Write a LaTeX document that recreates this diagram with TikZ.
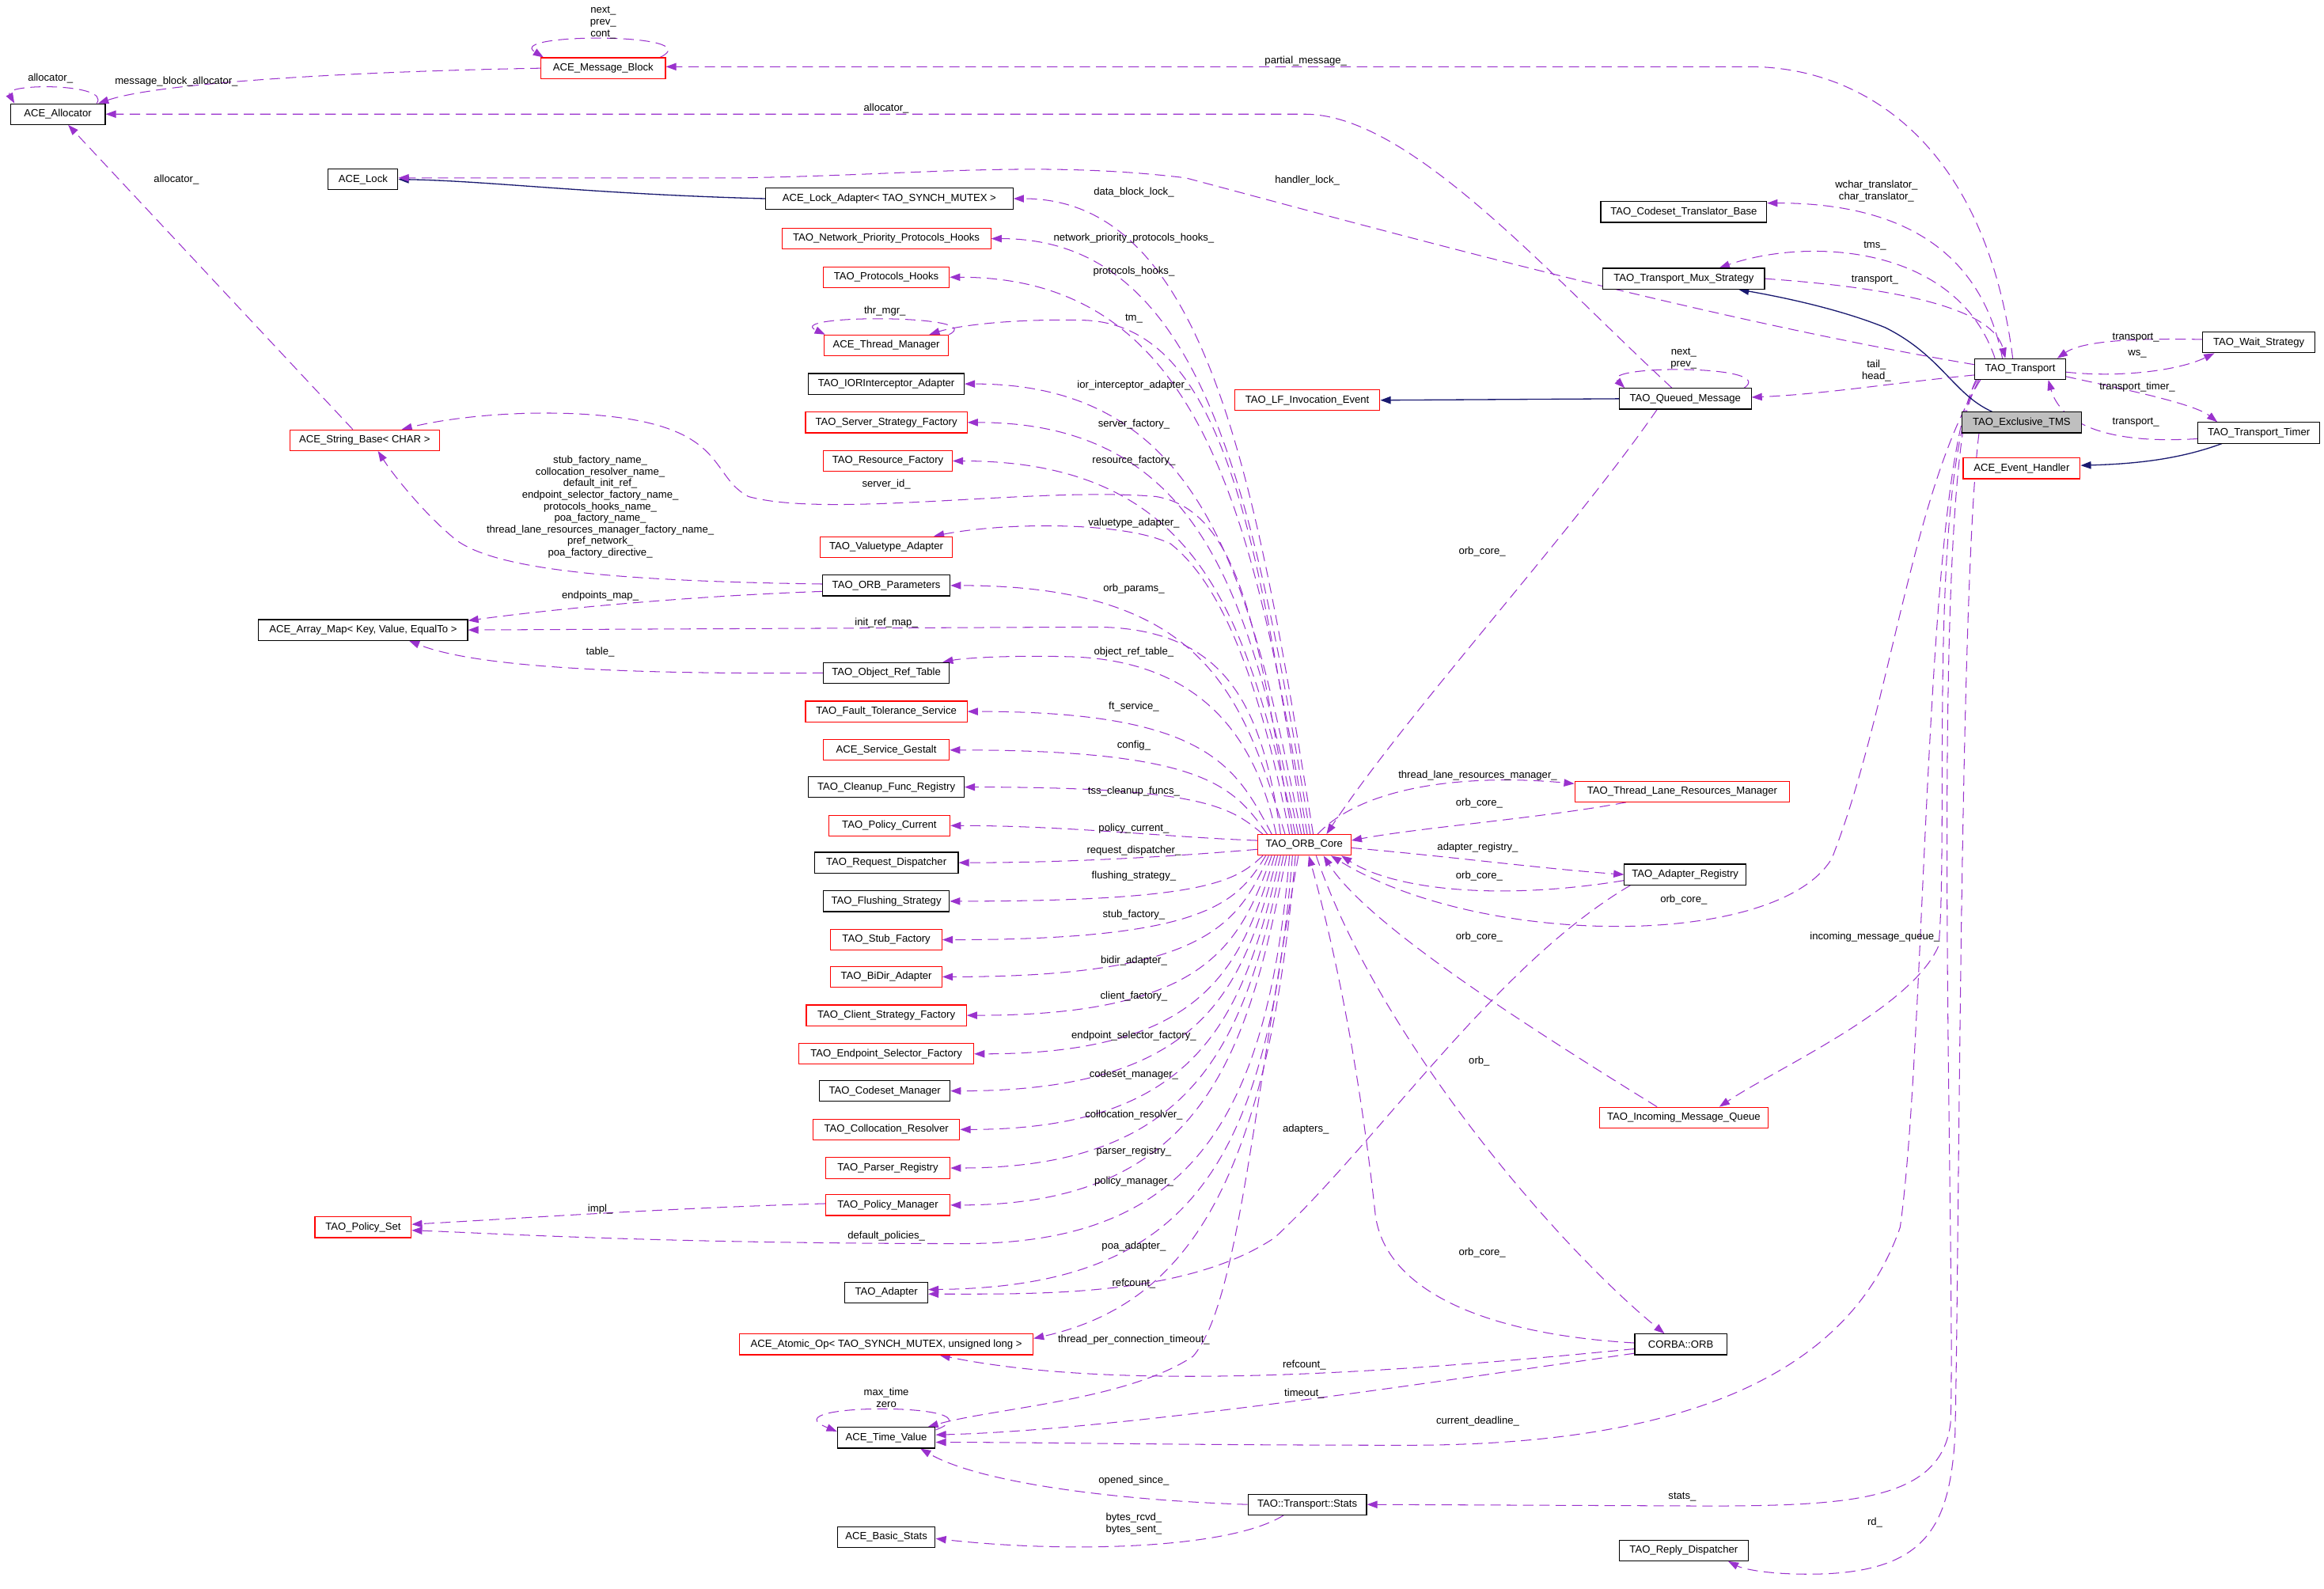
\documentclass[tikz,border=0pt]{standalone}
\usepackage{fontspec}
\setmainfont{Liberation Sans}
\usetikzlibrary{arrows.meta}
\pgfdeclarelayer{bg}
\pgfsetlayers{bg,main}
\definecolor{mpurple}{HTML}{9A32CD}
\definecolor{mblue}{HTML}{191970}
\definecolor{mgray}{HTML}{BFBFBF}
\tikzset{
  box/.style={draw=black, line width=0.6pt, minimum height=14pt, inner sep=0pt, font=\fontsize{7}{8}\selectfont, fill=white},
  rbox/.style={box, draw=red},
  mem/.style={draw=mpurple, line width=0.55pt, dash pattern=on 7pt off 4pt, -{Triangle[length=7pt,width=5pt]}},
  inh/.style={draw=mblue, line width=0.7pt, -{Triangle[length=7pt,width=5pt]}},
  lbl/.style={inner sep=0pt, font=\fontsize{7}{8}\selectfont, align=center},
}
\newcommand\fanup[3]{\draw[mem] ([xshift=#2pt]orbcore.north) .. controls ({845+0.5*(#2)},{#3+0.45*(563-#3)}) and (815,#3) .. (#1.east);}
\newcommand\fandown[3]{\draw[mem] ([xshift=#2pt]orbcore.south) .. controls ({848+0.5*(#2)},{#3-0.45*(#3-577)}) and (815,#3) .. (#1.east);}
\begin{document}
\begin{tikzpicture}[x=1pt,y=-1pt]
\useasboundingbox (0,0) rectangle (1568,1072);
% ---------- nodes ----------
\node[box,minimum width=64pt] (alloc) at (39,77) {ACE\_Allocator};
\node[rbox,minimum width=84pt] (msgblk) at (407,46) {ACE\_Message\_Block};
\node[box,minimum width=47pt] (lock) at (245,121) {ACE\_Lock};
\node[box,minimum width=167pt] (lockad) at (600,134) {ACE\_Lock\_Adapter< TAO\_SYNCH\_MUTEX >};
\node[rbox,minimum width=141pt] (nphooks) at (598,161) {TAO\_Network\_Priority\_Protocols\_Hooks};
\node[rbox,minimum width=85pt] (phooks) at (598,187) {TAO\_Protocols\_Hooks};
\node[rbox,minimum width=84pt] (thrmgr) at (598,233) {ACE\_Thread\_Manager};
\node[box,minimum width=105pt] (iorint) at (598,259) {TAO\_IORInterceptor\_Adapter};
\node[rbox,minimum width=109pt] (ssf) at (598,285) {TAO\_Server\_Strategy\_Factory};
\node[rbox,minimum width=87pt] (resf) at (599,311) {TAO\_Resource\_Factory};
\node[rbox,minimum width=101pt] (strbase) at (246,297) {ACE\_String\_Base< CHAR >};
\node[rbox,minimum width=89pt] (vta) at (598,369) {TAO\_Valuetype\_Adapter};
\node[box,minimum width=86pt] (orbparams) at (598,395) {TAO\_ORB\_Parameters};
\node[box,minimum width=141pt] (arraymap) at (245,425) {ACE\_Array\_Map< Key, Value, EqualTo >};
\node[box,minimum width=85pt] (ort) at (598,454) {TAO\_Object\_Ref\_Table};
\node[rbox,minimum width=109pt] (fts) at (598,480) {TAO\_Fault\_Tolerance\_Service};
\node[rbox,minimum width=85pt] (gestalt) at (598,506) {ACE\_Service\_Gestalt};
\node[box,minimum width=105pt] (cleanup) at (598,531) {TAO\_Cleanup\_Func\_Registry};
\node[rbox,minimum width=82pt] (polcur) at (600,557) {TAO\_Policy\_Current};
\node[box,minimum width=97pt] (reqdisp) at (598,582) {TAO\_Request\_Dispatcher};
\node[box,minimum width=85pt] (flush) at (598,608) {TAO\_Flushing\_Strategy};
\node[rbox,minimum width=75pt] (stubf) at (598,634) {TAO\_Stub\_Factory};
\node[rbox,minimum width=75pt] (bidir) at (598,659) {TAO\_BiDir\_Adapter};
\node[rbox,minimum width=108pt] (csf) at (598,685) {TAO\_Client\_Strategy\_Factory};
\node[rbox,minimum width=118pt] (esf) at (598,711) {TAO\_Endpoint\_Selector\_Factory};
\node[box,minimum width=88pt] (csm) at (597,736) {TAO\_Codeset\_Manager};
\node[rbox,minimum width=99pt] (colres) at (598,762) {TAO\_Collocation\_Resolver};
\node[rbox,minimum width=84pt] (parser) at (599,788) {TAO\_Parser\_Registry};
\node[rbox,minimum width=84pt] (polmgr) at (599,813) {TAO\_Policy\_Manager};
\node[rbox,minimum width=65pt] (polset) at (245,828) {TAO\_Policy\_Set};
\node[box,minimum width=56pt] (adapter) at (598,872) {TAO\_Adapter};
\node[rbox,minimum width=198pt] (atomic) at (598,907) {ACE\_Atomic\_Op< TAO\_SYNCH\_MUTEX, unsigned long >};
\node[box,minimum width=66pt] (timeval) at (598,970) {ACE\_Time\_Value};
\node[box,minimum width=66pt] (basic) at (598,1037) {ACE\_Basic\_Stats};
\node[rbox,minimum width=63pt] (orbcore) at (880,570) {TAO\_ORB\_Core};
\node[rbox,minimum width=98pt] (lfie) at (882,270) {TAO\_LF\_Invocation\_Event};
\node[rbox,minimum width=145pt] (tlrm) at (1135,534) {TAO\_Thread\_Lane\_Resources\_Manager};
\node[box,minimum width=82pt] (adreg) at (1137,590) {TAO\_Adapter\_Registry};
\node[rbox,minimum width=114pt] (imq) at (1136,754) {TAO\_Incoming\_Message\_Queue};
\node[box,minimum width=62pt] (corbaorb) at (1134,907) {CORBA::ORB};
\node[box,minimum width=80pt] (stats) at (882,1015) {TAO::Transport::Stats};
\node[box,minimum width=87pt] (replyd) at (1136,1046) {TAO\_Reply\_Dispatcher};
\node[box,minimum width=112pt] (cstb) at (1136,143) {TAO\_Codeset\_Translator\_Base};
\node[box,minimum width=109pt] (tms) at (1136,188) {TAO\_Transport\_Mux\_Strategy};
\node[box,minimum width=89pt] (qmsg) at (1137,269) {TAO\_Queued\_Message};
\node[box,minimum width=61pt] (transport) at (1363,249) {TAO\_Transport};
\node[box,minimum width=81pt,fill=mgray] (extms) at (1364,285) {TAO\_Exclusive\_TMS};
\node[rbox,minimum width=79pt] (evh) at (1364,316) {ACE\_Event\_Handler};
\node[box,minimum width=76pt] (wait) at (1524,231) {TAO\_Wait\_Strategy};
\node[box,minimum width=82pt] (timer) at (1524,292) {TAO\_Transport\_Timer};
% ---------- edges ----------
\begin{pgfonlayer}{bg}
\fill[white] (0,0) rectangle (1568,1072);
% self loops
\draw[mem] ([xshift=-6pt]alloc.north east) .. controls (75,56) and (2,56) .. ([xshift=3pt]alloc.north west);
\draw[mem] ([xshift=-4pt]msgblk.north east) .. controls (480,22) and (340,22) .. ([xshift=2pt]msgblk.north west);
\draw[mem] (thrmgr.north east) .. controls (668,212) and (528,212) .. ([xshift=1pt]thrmgr.north west);
\draw[mem] ([yshift=-2pt]timeval.north east) .. controls (680,946) and (515,946) .. ([yshift=-3pt]timeval.north west);
\draw[mem] ([xshift=-5pt]qmsg.north east) .. controls (1200,246) and (1080,246) .. ([xshift=4pt]qmsg.north west);
% top area
\draw[mem] (msgblk.west) .. controls (250,48) and (110,55) .. ([xshift=-5pt]alloc.north east);
\draw[mem] ([xshift=-5pt]transport.north) .. controls (1340,100) and (1260,45) .. (1180,45) -- ([yshift=1pt]msgblk.east);
\draw[mem] ([xshift=-9pt]qmsg.north) .. controls (1040,180) and (950,77) .. (880,77) -- (alloc.east);
\draw[inh] (lockad.west) .. controls (400,131) and (330,122) .. (lock.east);
\draw[mem] ([yshift=3pt]transport.west) .. controls (1150,215) and (950,160) .. (800,120) .. controls (700,108) and (620,118) .. (500,120) -- ([yshift=1pt]lock.east);
% ORB core fan (upper)
\fanup{lockad}{6}{134}
\fanup{nphooks}{4}{161}
\fanup{phooks}{2}{187}
\draw[mem] (orbcore.north) .. controls (850,380) and (830,218) .. (730,216) .. controls (680,215) and (645,220) .. ([xshift=29pt]thrmgr.north);
\fanup{iorint}{-2}{259}
\fanup{ssf}{-4}{285}
\fanup{resf}{-6}{311}
\draw[mem] ([xshift=-8pt]orbcore.north) .. controls (850,440) and (840,345) .. (780,335) .. controls (700,328) and (560,350) .. (505,335) .. controls (480,322) and (490,292) .. (420,282) .. controls (370,275) and (310,280) .. ([xshift=25pt]strbase.north);
\draw[mem] ([xshift=-10pt]orbcore.north) .. controls (850,460) and (825,395) .. (790,367) .. controls (760,352) and (680,352) .. ([xshift=32pt]vta.north);
\fanup{orbparams}{-13}{395}
\draw[mem] ([xshift=-16pt]orbcore.north) .. controls (852,480) and (830,424) .. (740,423) -- (arraymap.east);
\draw[mem] ([xshift=-19pt]orbcore.north) .. controls (850,510) and (820,445) .. (720,443) .. controls (680,442) and (650,444) .. ([xshift=38pt]ort.north);
\fanup{fts}{-22}{480}
\fanup{gestalt}{-25}{506}
\fanup{cleanup}{-28}{531}
\draw[mem] ([yshift=3pt]orbcore.west) .. controls (790,565) and (720,557) .. (polcur.east);
\draw[mem] ([yshift=-3pt]orbcore.west) .. controls (790,578) and (720,582) .. (reqdisp.east);
% ORB core fan (lower)
\fandown{flush}{-28}{608}
\fandown{stubf}{-26}{634}
\fandown{bidir}{-24}{659}
\fandown{csf}{-22}{685}
\fandown{esf}{-20}{711}
\fandown{csm}{-18}{736}
\fandown{colres}{-16}{762}
\fandown{parser}{-14}{788}
\fandown{polmgr}{-12}{813}
\draw[mem] ([xshift=-10pt]orbcore.south) .. controls (855,760) and (800,839) .. (650,839) .. controls (450,839) and (330,832) .. ([yshift=-2pt]polset.east);
\draw[mem] ([xshift=-8pt]orbcore.south) .. controls (855,790) and (800,868) .. ([yshift=2pt]adapter.east);
\draw[mem] ([xshift=-6pt]orbcore.south) .. controls (855,800) and (800,880) .. ([yshift=4pt]atomic.east);
\draw[mem] ([xshift=-4pt]orbcore.south) .. controls (845,750) and (835,880) .. (805,915) .. controls (760,945) and (670,950) .. ([xshift=28pt]timeval.north);
% left column side edges
\draw[mem] ([yshift=1pt]orbparams.west) .. controls (420,392) and (330,385) .. (305,362) .. controls (285,345) and (265,320) .. ([xshift=9pt]strbase.south);
\draw[mem] ([xshift=-8pt]strbase.north) -- ([xshift=7pt]alloc.south);
\draw[mem] ([yshift=-4pt]orbparams.west) .. controls (470,402) and (380,410) .. ([yshift=-1pt]arraymap.north east);
\draw[mem] (ort.west) .. controls (420,455) and (320,450) .. ([xshift=31pt]arraymap.south);
\draw[mem] ([yshift=1pt]polmgr.west) .. controls (450,815) and (350,822) .. ([yshift=2pt]polset.east);
\draw[mem] (stats.west) .. controls (750,1012) and (660,1000) .. ([xshift=23pt]timeval.south);
\draw[mem] ([xshift=-16pt]stats.south) .. controls (830,1045) and (720,1048) .. ([yshift=-1pt]basic.east);
% ORB core right side
\draw[mem] ([xshift=9pt]orbcore.north) .. controls (920,530) and (990,522) .. ([yshift=-2pt]tlrm.north west);
\draw[mem] ([xshift=-38pt]tlrm.south) .. controls (1040,552) and (960,558) .. ([yshift=3pt]orbcore.east);
\draw[mem] ([yshift=-2pt]orbcore.east) .. controls (980,578) and (1040,586) .. (adreg.west);
\draw[mem] ([yshift=-4pt]adreg.west) .. controls (1010,608) and (940,600) .. ([xshift=25pt]orbcore.south);
\draw[mem] ([xshift=-19pt]qmsg.south) .. controls (1060,360) and (950,480) .. ([xshift=15pt]orbcore.north);
\draw[mem] ([xshift=4pt]transport.south west) .. controls (1290,330) and (1275,480) .. (1236,579) .. controls (1200,640) and (1000,640) .. ([xshift=18pt]orbcore.south);
\draw[mem] ([xshift=-18pt]imq.north) .. controls (1010,680) and (920,620) .. ([xshift=13pt]orbcore.south);
\draw[mem] ([xshift=8pt]orbcore.south) .. controls (930,700) and (1050,840) .. ([xshift=-11pt]corbaorb.north);
\draw[mem] ([yshift=1pt]corbaorb.west) .. controls (1000,900) and (935,870) .. (928,820) .. controls (915,700) and (895,620) .. ([xshift=3pt]orbcore.south);
\draw[mem] ([xshift=-37pt]adreg.south) .. controls (1010,650) and (930,770) .. (860,835) .. controls (800,875) and (700,873) .. ([yshift=-1pt]adapter.east);
\draw[mem] ([yshift=-3pt]corbaorb.west) .. controls (950,925) and (760,940) .. ([xshift=36pt]atomic.south);
\draw[mem] ([yshift=-6pt]corbaorb.west) .. controls (950,935) and (750,965) .. ([yshift=2pt]timeval.east);
% transport downward
\draw[mem] ([xshift=3pt]transport.south west) .. controls (1300,320) and (1315,560) .. (1308,638) .. controls (1290,680) and (1200,720) .. ([xshift=24pt]imq.north);
\draw[mem] ([xshift=2pt]transport.south west) .. controls (1298,310) and (1300,700) .. (1282,828) .. controls (1250,920) and (1150,975) .. (950,975) .. controls (800,975) and (700,973) .. ([yshift=-3pt]timeval.east);
\draw[mem] ([xshift=1pt]transport.south west) .. controls (1300,320) and (1320,850) .. (1316,960) .. controls (1310,1012) and (1250,1016) .. (1150,1016) -- (stats.east);
\draw[mem] ([xshift=12pt]extms.south west) .. controls (1322,400) and (1322,850) .. (1319,970) .. controls (1315,1030) and (1300,1062) .. (1220,1062) .. controls (1190,1062) and (1175,1058) .. ([xshift=30pt]replyd.south);
% right cluster
\draw[mem] ([xshift=-12pt]transport.north) .. controls (1335,160) and (1270,137) .. ([yshift=6pt]cstb.east);
\draw[mem] ([xshift=-17pt]transport.north) .. controls (1320,165) and (1220,160) .. ([xshift=24pt]tms.north);
\draw[mem] (tms.east) .. controls (1290,195) and (1345,210) .. ([xshift=-10pt]transport.north);
\draw[inh] ([xshift=-20pt]extms.north) .. controls (1318,266) and (1310,240) .. (1272,221) .. controls (1240,208) and (1200,200) .. ([xshift=37pt]tms.south);
\draw[mem] ([yshift=-4pt]transport.west) .. controls (1280,258) and (1230,266) .. ([yshift=1pt]qmsg.east);
\draw[inh] (qmsg.west) -- (lfie.east);
\draw[mem] ([yshift=-2pt]transport.east) .. controls (1430,255) and (1470,250) .. ([xshift=-30pt]wait.south);
\draw[mem] ([yshift=2pt]wait.west) .. controls (1440,228) and (1405,230) .. ([xshift=25pt]transport.north);
\draw[mem] ([yshift=-5pt]transport.east) .. controls (1430,262) and (1480,272) .. ([xshift=-28pt]timer.north);
\draw[mem] ([yshift=-4pt]timer.west) .. controls (1420,300) and (1390,285) .. ([xshift=19pt]transport.south);
\draw[inh] ([xshift=-25pt]timer.south) .. controls (1470,310) and (1440,313) .. ([yshift=2pt]evh.east);
\end{pgfonlayer}
% ---------- labels ----------
\node[lbl] (l1) at (34,53) {allocator\_};
\node[lbl] (l2) at (119,55) {message\_block\_allocator\_};
\node[lbl] (l3) at (407,15) {next\_\\prev\_\\cont\_};
\node[lbl] (l4) at (881,41) {partial\_message\_};
\node[lbl] (l5) at (598,73) {allocator\_};
\node[lbl] (l6) at (119,121) {allocator\_};
\node[lbl] (l7) at (882,122) {handler\_lock\_};
\node[lbl] (l8) at (765,130) {data\_block\_lock\_};
\node[lbl] (l9) at (1266,129) {wchar\_translator\_\\char\_translator\_};
\node[lbl] (l10) at (765,161) {network\_priority\_protocols\_hooks\_};
\node[lbl] (l11) at (1265,166) {tms\_};
\node[lbl] (l12) at (765,183) {protocols\_hooks\_};
\node[lbl] (l13) at (1265,189) {transport\_};
\node[lbl] (l14) at (597,210) {thr\_mgr\_};
\node[lbl] (l15) at (765,215) {tm\_};
\node[lbl] (l16) at (1441,228) {transport\_};
\node[lbl] (l17) at (1442,239) {ws\_};
\node[lbl] (l18) at (1136,242) {next\_\\prev\_};
\node[lbl] (l19) at (1266,250) {tail\_\\head\_};
\node[lbl] (l20) at (765,260) {ior\_interceptor\_adapter\_};
\node[lbl] (l21) at (1442,261) {transport\_timer\_};
\node[lbl] (l22) at (765,286) {server\_factory\_};
\node[lbl] (l23) at (1441,285) {transport\_};
\node[lbl] (l24) at (765,311) {resource\_factory\_};
\node[lbl,font=\fontsize{7}{7.8}\selectfont] (l25) at (405,342) {stub\_factory\_name\_\\collocation\_resolver\_name\_\\default\_init\_ref\_\\endpoint\_selector\_factory\_name\_\\protocols\_hooks\_name\_\\poa\_factory\_name\_\\thread\_lane\_resources\_manager\_factory\_name\_\\pref\_network\_\\poa\_factory\_directive\_};
\node[lbl] (l26) at (598,327) {server\_id\_};
\node[lbl] (l27) at (765,353) {valuetype\_adapter\_};
\node[lbl] (l28) at (1000,372) {orb\_core\_};
\node[lbl] (l29) at (765,397) {orb\_params\_};
\node[lbl] (l30) at (405,402) {endpoints\_map\_};
\node[lbl] (l31) at (598,420) {init\_ref\_map\_};
\node[lbl] (l32) at (765,440) {object\_ref\_table\_};
\node[lbl] (l33) at (405,440) {table\_};
\node[lbl] (l34) at (765,477) {ft\_service\_};
\node[lbl] (l35) at (765,503) {config\_};
\node[lbl] (l36) at (997,523) {thread\_lane\_resources\_manager\_};
\node[lbl] (l37) at (765,534) {tss\_cleanup\_funcs\_};
\node[lbl] (l38) at (998,542) {orb\_core\_};
\node[lbl] (l39) at (765,559) {policy\_current\_};
\node[lbl] (l40) at (997,572) {adapter\_registry\_};
\node[lbl] (l41) at (765,574) {request\_dispatcher\_};
\node[lbl] (l42) at (765,591) {flushing\_strategy\_};
\node[lbl] (l43) at (998,591) {orb\_core\_};
\node[lbl] (l44) at (1136,607) {orb\_core\_};
\node[lbl] (l45) at (765,617) {stub\_factory\_};
\node[lbl] (l46) at (998,632) {orb\_core\_};
\node[lbl] (l47) at (1265,632) {incoming\_message\_queue\_};
\node[lbl] (l48) at (765,648) {bidir\_adapter\_};
\node[lbl] (l49) at (765,672) {client\_factory\_};
\node[lbl] (l50) at (765,699) {endpoint\_selector\_factory\_};
\node[lbl] (l51) at (998,716) {orb\_};
\node[lbl] (l52) at (765,725) {codeset\_manager\_};
\node[lbl] (l53) at (765,752) {collocation\_resolver\_};
\node[lbl] (l54) at (881,762) {adapters\_};
\node[lbl] (l55) at (765,777) {parser\_registry\_};
\node[lbl] (l56) at (765,797) {policy\_manager\_};
\node[lbl] (l57) at (405,816) {impl\_};
\node[lbl] (l58) at (598,834) {default\_policies\_};
\node[lbl] (l59) at (765,841) {poa\_adapter\_};
\node[lbl] (l60) at (1000,845) {orb\_core\_};
\node[lbl] (l61) at (765,866) {refcount\_};
\node[lbl] (l62) at (765,904) {thread\_per\_connection\_timeout\_};
\node[lbl] (l63) at (880,921) {refcount\_};
\node[lbl] (l64) at (598,943) {max\_time\\zero};
\node[lbl] (l65) at (880,940) {timeout\_};
\node[lbl] (l66) at (997,959) {current\_deadline\_};
\node[lbl] (l67) at (765,999) {opened\_since\_};
\node[lbl] (l68) at (1135,1010) {stats\_};
\node[lbl] (l69) at (1265,1027) {rd\_};
\node[lbl] (l70) at (765,1028) {bytes\_rcvd\_\\bytes\_sent\_};
\end{tikzpicture}
\end{document}
